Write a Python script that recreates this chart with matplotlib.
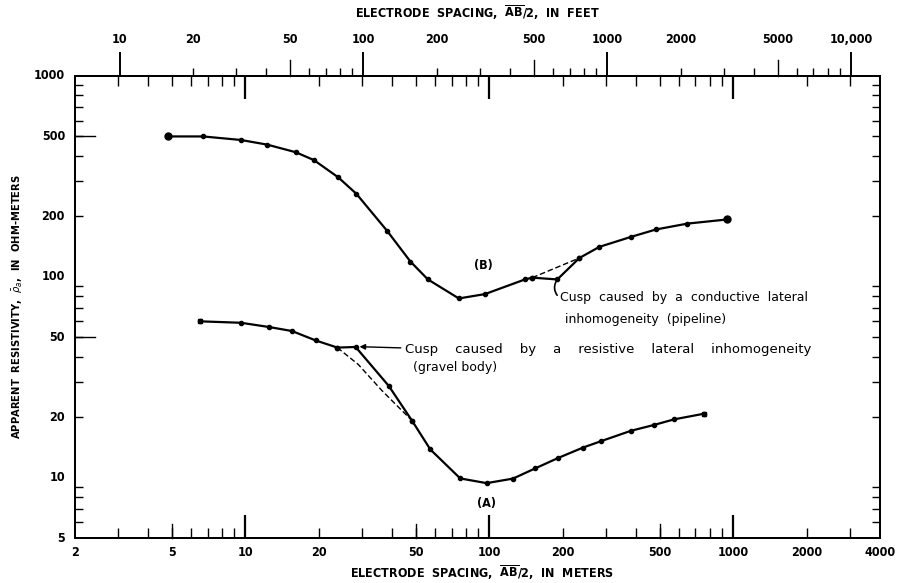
import numpy as np
import matplotlib.pyplot as plt
from matplotlib.ticker import FixedLocator, NullFormatter, NullLocator

plt.rcParams['font.family'] = ['DejaVu Sans']
plt.rcParams['font.stretch'] = 'condensed'
plt.rcParams['mathtext.fontset'] = 'dejavusans'

# curve (B): sounding with a conductive cusp
b_x = [4.8, 6.7, 9.6, 12.3, 16.1, 19.1, 24, 28.5, 38, 47.5, 56, 75, 96, 140, 150]
b_y = [500, 500, 480, 455, 417, 381, 313, 259, 170, 119, 97, 78, 82, 97, 99]
b_cusp_x = [150, 190, 234]
b_cusp_y = [99, 97, 124]
b_smooth_x = [150, 234]
b_smooth_y = [99, 124]
b_tail_x = [234, 283, 381, 482, 649, 946]
b_tail_y = [124, 141, 158, 172, 184, 193]

# curve (A): sounding with a resistive cusp
a_x = [6.5, 9.6, 12.5, 15.5, 19.4, 23.8]
a_y = [60, 59, 56.2, 53.7, 48.2, 44.4]
a_cusp_x = [23.8, 28.3, 38.7, 48.2]
a_cusp_y = [44.4, 44.7, 28.6, 19.2]
a_smooth_x = [23.8, 29, 36.4, 48.2]
a_smooth_y = [44.4, 36.6, 27.0, 19.2]
a_tail_x = [48.2, 57.3, 76, 97.5, 125, 154, 191, 242, 288, 381, 475, 573, 760]
a_tail_y = [19.2, 13.8, 9.9, 9.38, 9.88, 11.1, 12.5, 14.1, 15.2, 17.1, 18.3, 19.5, 20.8]

m_labels = [2, 5, 10, 20, 50, 100, 200, 500, 1000, 2000, 4000]
ft_labels = [10, 20, 50, 100, 200, 500, 1000, 2000, 5000, 10000]
rho_labels = [5, 10, 20, 50, 100, 200, 500, 1000]

W, H = 900, 583
fig = plt.figure(figsize=(9, 5.83), dpi=100)
x0, x1, y0, y1 = 75, 880, 76, 538
ax = fig.add_axes([x0 / W, 1 - y1 / H, (x1 - x0) / W, (y1 - y0) / H])
ax_w, ax_h = x1 - x0, y1 - y0
ax.set_xscale('log')
ax.set_yscale('log')
ax.set_xlim(2, 4000)
ax.set_ylim(5, 1000)

lw = 1.6
k = 'black'
ax.plot(b_x, b_y, color=k, lw=lw, marker='o', ms=3)
ax.plot(b_cusp_x, b_cusp_y, color=k, lw=lw, marker='o', ms=3)
ax.plot(b_smooth_x, b_smooth_y, color=k, lw=1.0, ls=(0, (4, 2)))
ax.plot(b_tail_x, b_tail_y, color=k, lw=lw, marker='o', ms=3)
ax.plot([b_x[0], b_tail_x[-1]], [b_y[0], b_tail_y[-1]], ls='none', marker='o', ms=5, color=k)

ax.plot(a_x, a_y, color=k, lw=lw, marker='o', ms=3)
ax.plot(a_cusp_x, a_cusp_y, color=k, lw=lw, marker='o', ms=3)
ax.plot(a_smooth_x, a_smooth_y, color=k, lw=1.0, ls=(0, (4, 2)))
ax.plot(a_tail_x, a_tail_y, color=k, lw=lw, marker='o', ms=3)
ax.plot([a_x[0], a_tail_x[-1]], [a_y[0], a_tail_y[-1]], ls='none', marker='s', ms=3.5, color=k)

tfont = dict(fontsize=9, fontstretch='normal')
ax.text(94.6, 113.5, '(B)', ha='center', va='center', fontsize=9, fontweight='bold')
ax.text(97, 7.43, '(A)', ha='center', va='center', fontsize=9, fontweight='bold')

ax.text(195, 78.7, 'Cusp  caused  by  a  conductive  lateral', ha='left', va='center', **tfont)
ax.text(205, 61, 'inhomogeneity  (pipeline)', ha='left', va='center', **tfont)
ax.annotate('', xy=(190, 97), xytext=(193, 79),
            arrowprops=dict(arrowstyle='-', lw=1.2, color=k,
                            connectionstyle='arc3,rad=-0.4'))

ax.text(45, 43.6, 'Cusp    caused    by    a    resistive    lateral    inhomogeneity',
        ha='left', va='center', fontsize=9.5, fontstretch='normal')
ax.text(48.5, 35.4, '(gravel body)', ha='left', va='center', **tfont)
ax.annotate('', xy=(28.6, 44.9), xytext=(44.5, 44.2),
            arrowprops=dict(arrowstyle='-|>', lw=1.0, color=k, mutation_scale=8))

# bottom axis: meters, ticks pointing in (also mirrored inside the top edge)
ax.xaxis.set_major_locator(FixedLocator([10, 100, 1000]))
ax.xaxis.set_minor_locator(FixedLocator([3, 4, 5, 6, 7, 8, 9, 20, 30, 40, 50, 60, 70, 80, 90,
                                         200, 300, 400, 500, 600, 700, 800, 900, 2000, 3000]))
ax.xaxis.set_major_formatter(NullFormatter())
ax.xaxis.set_minor_formatter(NullFormatter())
ax.tick_params(axis='x', which='major', direction='in', length=16.5, width=1.6)
ax.tick_params(axis='x', which='minor', direction='in', length=7.5, width=1.0)
xt = ax.get_xaxis_transform()
for v in [5, 50, 500]:
    ax.plot([v, v], [0, 14 / ax_h], color=k, lw=1.0, transform=xt, clip_on=False)
for v in m_labels:
    ax.text(v, -15 / ax_h, f'{v}', ha='center', va='center', fontsize=9,
            fontweight='bold', transform=xt)
fig.text(0.5 * (x0 + x1) / W + 0.005, 1 - 573 / H,
         r'ELECTRODE  SPACING,  $\overline{\mathbf{AB}}$/2,  IN  METERS',
         ha='center', va='center', fontsize=9, fontweight='bold')

# left axis: ticks pointing in (also mirrored on the right edge)
ax.yaxis.set_major_locator(FixedLocator([10, 100, 1000]))
ax.yaxis.set_minor_locator(FixedLocator([6, 7, 8, 9, 20, 30, 40, 50, 60, 70, 80, 90,
                                         200, 300, 400, 500, 600, 700, 800, 900]))
ax.yaxis.set_major_formatter(NullFormatter())
ax.yaxis.set_minor_formatter(NullFormatter())
ax.tick_params(axis='y', which='major', direction='in', length=20, width=1.6)
ax.tick_params(axis='y', which='minor', direction='in', length=6, width=1.0)
yt = ax.get_yaxis_transform()
for v in [50, 500]:
    ax.plot([0, 20 / ax_w], [v, v], color=k, lw=1.0, transform=yt, clip_on=False)
for v in rho_labels:
    ax.text(-10 / ax_w, v, f'{v}', ha='right', va='center', fontsize=9,
            fontweight='bold', transform=yt)
fig.text(18 / W, 1 - 0.5 * (y0 + y1) / H,
         r'APPARENT  RESISTIVITY,  $\bar{\rho}_a$,  IN  OHM-METERS',
         rotation=90, ha='center', va='center', fontsize=8, fontweight='bold')

# top axis: feet, ticks pointing out
top = ax.twiny()
top.set_xscale('log')
top.set_xlim(2 / 0.3048, 4000 / 0.3048)
top.xaxis.set_major_locator(FixedLocator([10, 100, 1000, 10000]))
top.xaxis.set_minor_locator(FixedLocator([20, 30, 40, 60, 70, 80, 90,
                                          200, 300, 400, 600, 700, 800, 900,
                                          2000, 3000, 4000, 6000, 7000, 8000, 9000]))
top.xaxis.set_major_formatter(NullFormatter())
top.xaxis.set_minor_formatter(NullFormatter())
top.tick_params(axis='x', which='major', direction='out', length=17.5, width=1.4)
top.tick_params(axis='x', which='minor', direction='out', length=6, width=1.0)
top.yaxis.set_major_locator(NullLocator())
tt = top.get_xaxis_transform()
for v in [50, 500, 5000]:
    top.plot([v, v], [1, 1 + 16 / ax_h], color=k, lw=1.0, clip_on=False, transform=tt)
for v in ft_labels:
    s = '10,000' if v == 10000 else f'{v}'
    top.text(v, 1 + 36 / ax_h, s, ha='center', va='center', fontsize=9,
             fontweight='bold', transform=tt)
fig.text(0.5 * (x0 + x1) / W, 1 - 13 / H,
         r'ELECTRODE  SPACING,  $\overline{\mathbf{AB}}$/2,  IN  FEET',
         ha='center', va='center', fontsize=9, fontweight='bold')

ax.tick_params(axis='x', which='both', top=True)
ax.tick_params(axis='y', which='both', right=True)
ax.tick_params(axis='y', which='major', length=20)
for a in (ax, top):
    for sp in a.spines.values():
        sp.set_linewidth(1.4)

fig.savefig('out.png', dpi=100)
